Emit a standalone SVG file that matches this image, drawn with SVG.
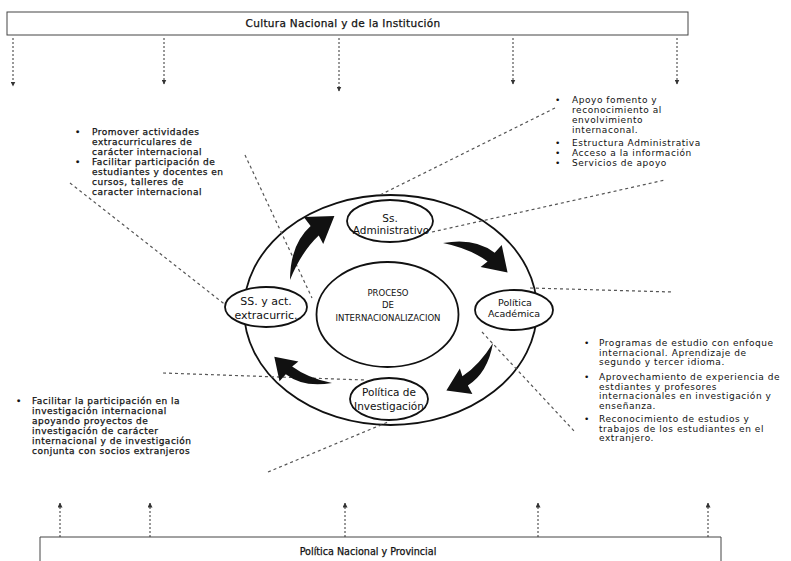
<svg xmlns="http://www.w3.org/2000/svg" width="791" height="561" viewBox="0 0 791 561">
<style>
.t{font-family:"DejaVu Sans","Liberation Sans",sans-serif;font-size:9px;letter-spacing:0.55px;fill:#111}
.tb{font-family:"DejaVu Sans","Liberation Sans",sans-serif;font-size:9px;letter-spacing:0.5px;fill:#111;stroke:#111;stroke-width:0.25}
.n{font-family:"DejaVu Sans","Liberation Sans",sans-serif;fill:#111;text-anchor:middle}
.c{text-anchor:middle}
.box{fill:#fff;stroke:#444;stroke-width:1}
.dot{stroke:#333;stroke-width:1;stroke-dasharray:2 2;fill:none}
.dash{stroke:#555;stroke-width:1.2;stroke-dasharray:3 3;fill:none}
.ring{fill:#fff;stroke:#111;stroke-width:1.8}
.node{fill:#fff;stroke:#111;stroke-width:1.8}
</style>
<defs>
<marker id="ah" viewBox="0 0 10 10" refX="9" refY="5" markerWidth="5" markerHeight="5" orient="auto">
<path d="M0,0 L10,5 L0,10 Z" fill="#333"/>
</marker>
<path id="carrow" d="M0,0 Q28,-6 46,7 L52,0 L58,24 L34,20 L40,15 Q24,4 0,0 Z" fill="#111"/>
</defs>
<rect width="791" height="561" fill="#fff"/>

<g id="top-box">
<rect class="box" x="7" y="12" width="681" height="23"/>
<text class="tb c" x="343" y="27" style="font-size:10.5px;letter-spacing:0.3px">Cultura Nacional y de la Institución</text>
</g>
<g id="bottom-box">
<path class="box" d="M40,565 L40,537 L721,537 L721,565"/>
<text class="tb c" x="368" y="555" style="font-size:9.6px;letter-spacing:0">Política Nacional y Provincial</text>
</g>

<g id="ring">
<ellipse class="ring" cx="390.5" cy="310" rx="146.5" ry="115"/>
</g>

<g id="connectors">
<line class="dot" x1="13" y1="38" x2="13" y2="86" marker-end="url(#ah)"/>
<line class="dot" x1="164" y1="38" x2="164" y2="84" marker-end="url(#ah)"/>
<line class="dot" x1="339" y1="38" x2="339" y2="91" marker-end="url(#ah)"/>
<line class="dot" x1="513" y1="38" x2="513" y2="84" marker-end="url(#ah)"/>
<line class="dot" x1="677" y1="38" x2="677" y2="84" marker-end="url(#ah)"/>
<line class="dot" x1="60" y1="537" x2="60" y2="503" marker-end="url(#ah)"/>
<line class="dot" x1="150" y1="537" x2="150" y2="503" marker-end="url(#ah)"/>
<line class="dot" x1="345" y1="537" x2="345" y2="503" marker-end="url(#ah)"/>
<line class="dot" x1="538" y1="537" x2="538" y2="503" marker-end="url(#ah)"/>
<line class="dot" x1="708" y1="537" x2="708" y2="503" marker-end="url(#ah)"/>

<line class="dash" x1="245" y1="155" x2="312" y2="298"/>
<line class="dash" x1="70" y1="183" x2="232" y2="310"/>
<line class="dash" x1="555" y1="108" x2="378" y2="196"/>
<line class="dash" x1="432" y1="232" x2="665" y2="180"/>
<line class="dash" x1="530" y1="288" x2="672" y2="292"/>
<line class="dash" x1="482" y1="332" x2="575" y2="432"/>
<line class="dash" x1="163" y1="373" x2="365" y2="380"/>
<line class="dash" x1="268" y1="472" x2="388" y2="422"/>
</g>

<g id="center">
<ellipse class="node" cx="387.5" cy="314.5" rx="71" ry="52.5"/>
<text class="n" x="388" y="296" style="font-size:8.5px">PROCESO</text>
<text class="n" x="388" y="308" style="font-size:8.5px">DE</text>
<text class="n" x="388" y="321" style="font-size:8.5px">INTERNACIONALIZACION</text>
</g>

<g id="node-admin">
<ellipse class="node" cx="390" cy="221" rx="43" ry="21"/>
<text class="n" x="390" y="222" style="font-size:10.5px">Ss.</text>
<text class="n" x="391" y="234" style="font-size:10.5px">Administrativo</text>
</g>
<g id="node-academica">
<ellipse class="node" cx="514" cy="310" rx="39" ry="20"/>
<text class="n" x="515" y="306" style="font-size:9.5px">Política</text>
<text class="n" x="514" y="317" style="font-size:9.5px">Académica</text>
</g>
<g id="node-investigacion">
<ellipse class="node" cx="389" cy="399" rx="39" ry="21"/>
<text class="n" x="389" y="396" style="font-size:10.5px">Política de</text>
<text class="n" x="389" y="410" style="font-size:10.5px">Investigación</text>
</g>
<g id="node-extracurric">
<ellipse class="node" cx="266" cy="307" rx="41" ry="20"/>
<text class="n" x="266" y="305" style="font-size:11px">SS. y act.</text>
<text class="n" x="266" y="319" style="font-size:11px">extracurric.</text>
</g>

<g id="cycle-arrows">
<use href="#carrow" transform="translate(290,280) rotate(-77.7) scale(1.24)"/>
<use href="#carrow" transform="translate(443,243) rotate(2) scale(1.13)"/>
<use href="#carrow" transform="translate(493,343) rotate(112) scale(1.06)"/>
<use href="#carrow" transform="translate(332,383) rotate(182) scale(1.01)"/>
</g>

<g id="text-extracurric">
<text class="tb" x="75" y="135">•</text>
<text class="tb" x="92" y="135">Promover actividades</text>
<text class="tb" x="92" y="145">extracurriculares de</text>
<text class="tb" x="92" y="155">carácter internacional</text>
<text class="tb" x="75" y="165">•</text>
<text class="tb" x="92" y="165">Facilitar participación de</text>
<text class="tb" x="92" y="175">estudiantes y docentes en</text>
<text class="tb" x="92" y="185">cursos, talleres de</text>
<text class="tb" x="92" y="195">caracter internacional</text>
</g>

<g id="text-admin">
<text class="t" x="555" y="103">•</text>
<text class="t" x="572" y="103">Apoyo fomento y</text>
<text class="t" x="572" y="113">reconocimiento al</text>
<text class="t" x="572" y="123">envolvimiento</text>
<text class="t" x="572" y="133">internaconal.</text>
<text class="t" x="555" y="146">•</text>
<text class="t" x="572" y="146">Estructura Administrativa</text>
<text class="t" x="555" y="156">•</text>
<text class="t" x="572" y="156">Acceso a la información</text>
<text class="t" x="555" y="166">•</text>
<text class="t" x="572" y="166">Servicios de apoyo</text>
</g>

<g id="text-academica">
<text class="t" x="584" y="346">•</text>
<text class="t" x="599" y="346">Programas de estudio con enfoque</text>
<text class="t" x="599" y="355.5">internacional. Aprendizaje de</text>
<text class="t" x="599" y="365">segundo y tercer idioma.</text>
<text class="t" x="584" y="380">•</text>
<text class="t" x="599" y="380"> Aprovechamiento de experiencia de</text>
<text class="t" x="599" y="389.5">estdiantes y profesores</text>
<text class="t" x="599" y="399">internacionales en investigación y</text>
<text class="t" x="599" y="408.5">enseñanza.</text>
<text class="t" x="584" y="422">•</text>
<text class="t" x="599" y="422">Reconocimiento de estudios y</text>
<text class="t" x="599" y="431.5">trabajos de los estudiantes en el</text>
<text class="t" x="599" y="441">extranjero.</text>
</g>

<g id="text-investigacion">
<text class="tb" x="16" y="404">•</text>
<text class="tb" x="32" y="404">Facilitar la participación en la</text>
<text class="tb" x="32" y="414">investigación internacional</text>
<text class="tb" x="32" y="424">apoyando proyectos de</text>
<text class="tb" x="32" y="434">investigación de carácter</text>
<text class="tb" x="32" y="444">internacional y de investigación</text>
<text class="tb" x="32" y="454">conjunta con socios extranjeros</text>
</g>
</svg>
